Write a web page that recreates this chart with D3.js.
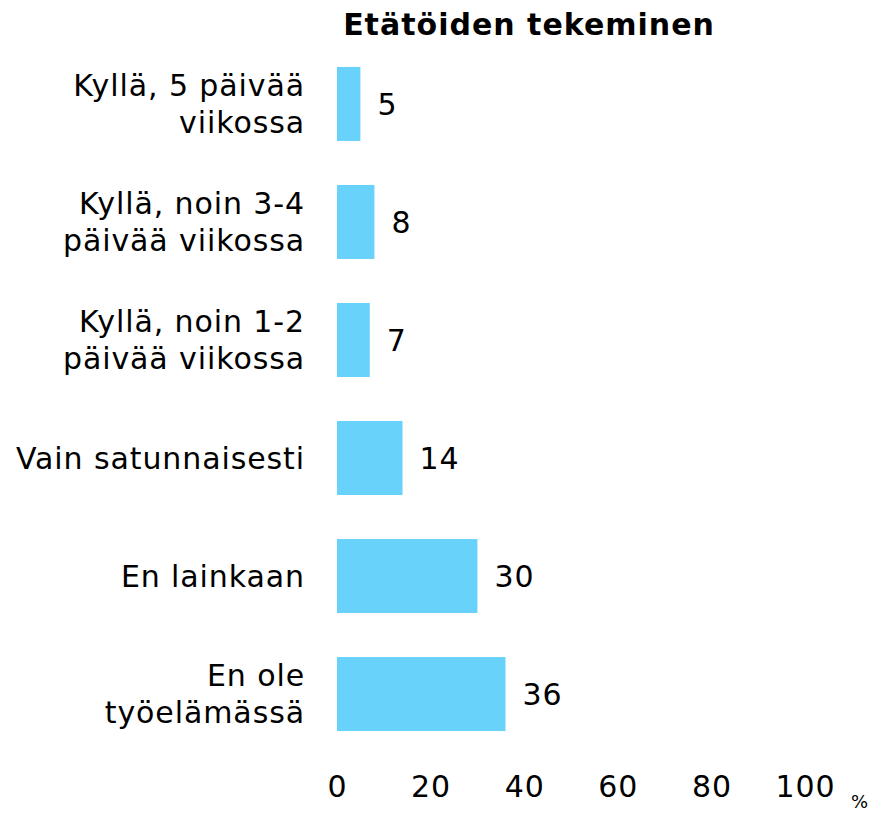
<!DOCTYPE html>
<html>
<head>
<meta charset="utf-8">
<script src="https://cdn.jsdelivr.net/npm/d3@7"></script>
<style>
  body { margin: 0; background: #fff; }
  text { font-family: "DejaVu Sans", Verdana, sans-serif; fill: #000; }
</style>
</head>
<body>
<svg id="chart"></svg>
<script>
var categories = [
  ["Kyllä, 5 päivää", "viikossa"],
  ["Kyllä, noin 3-4", "päivää viikossa"],
  ["Kyllä, noin 1-2", "päivää viikossa"],
  ["Vain satunnaisesti"],
  ["En lainkaan"],
  ["En ole", "työelämässä"]
];
var values = [5, 8, 7, 14, 30, 36];
var ticks = [0, 20, 40, 60, 80, 100];
var title = "Etätöiden tekeminen";

var width = 875, height = 813;
var svg = d3.select("#chart").attr("width", width).attr("height", height);

var x = d3.scaleLinear().domain([0, 100]).range([337, 805]);
var y = d3.scaleBand()
  .domain(d3.range(categories.length))
  .range([45, 753])
  .paddingInner(0.373)
  .paddingOuter(0.186);

// title
svg.append("text")
  .attr("x", 529)
  .attr("y", 35)
  .attr("text-anchor", "middle")
  .style("font-size", "30px")
  .style("font-weight", "bold")
  .style("letter-spacing", "1px")
  .text(title);

// bars
svg.append("g")
  .selectAll("rect")
  .data(values)
  .join("rect")
  .attr("x", x(0))
  .attr("y", (d, i) => y(i))
  .attr("width", d => x(d) - x(0))
  .attr("height", y.bandwidth())
  .attr("fill", "#68d2fa");

// value labels
svg.append("g")
  .selectAll("text")
  .data(values)
  .join("text")
  .attr("x", d => x(d) + 17)
  .attr("y", (d, i) => y(i) + y.bandwidth() / 2)
  .attr("dy", "0.36em")
  .style("font-size", "30px")
  .style("letter-spacing", "0.9px")
  .text(d => d);

// category labels
var lineH = 37;
var cat = svg.append("g")
  .selectAll("text")
  .data(categories)
  .join("text")
  .attr("text-anchor", "end")
  .style("font-size", "30px")
  .style("letter-spacing", "0.9px")
  .attr("y", (d, i) => y(i) + y.bandwidth() / 2 - (d.length - 1) * lineH / 2)
  .attr("dy", "0.36em");
cat.selectAll("tspan")
  .data(d => d)
  .join("tspan")
  .attr("x", 305)
  .attr("dy", (d, j) => j === 0 ? null : lineH)
  .text(d => d);

// x axis (no line, only labels)
var axis = svg.append("g")
  .attr("transform", "translate(0,776)")
  .call(d3.axisBottom(x).tickValues(ticks).tickSize(0).tickPadding(0));
axis.select(".domain").remove();
axis.selectAll("text")
  .attr("dy", "0.71em")
  .style("font-size", "30px")
  .style("letter-spacing", "0.9px")
  .style("font-family", "'DejaVu Sans', Verdana, sans-serif");

svg.append("text")
  .attr("x", 851)
  .attr("y", 808)
  .style("font-size", "18px")
  .text("%");
</script>
</body>
</html>
